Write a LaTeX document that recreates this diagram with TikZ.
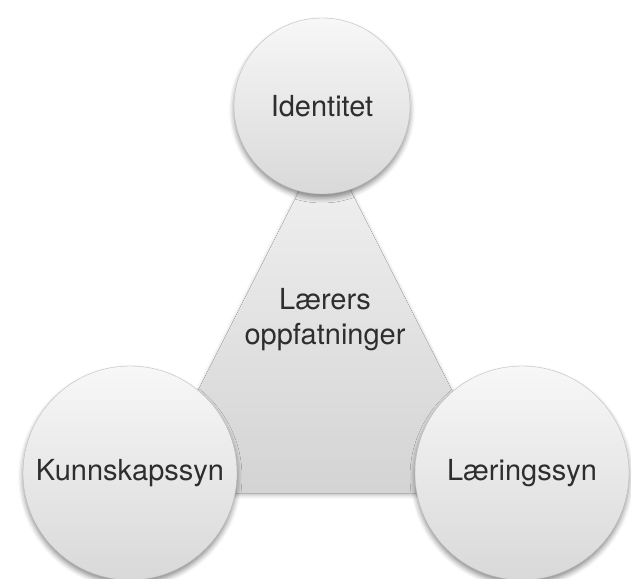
\documentclass[tikz,border=0pt]{standalone}
\usepackage{fontspec}
\setmainfont{TeX Gyre Heros}
\usetikzlibrary{shadows.blur}
\begin{document}
\begin{tikzpicture}[x=1pt,y=1pt, line join=round,
    label text/.style={text=black!82, font=\fontsize{29}{35}\selectfont},
    ball/.style={circle, minimum size=#1, inner sep=0pt, label text,
      top color=gray!6, bottom color=gray!30, draw=gray!50, line width=0.4pt,
      blur shadow={shadow xshift=0pt, shadow yshift=-4pt, shadow blur radius=5pt, shadow opacity=45}}]
    \def\rs{176} \def\rb{214}
    \useasboundingbox (0,0) rectangle (631,578);
    % triangle behind the three circles
    \coordinate (apex) at (325,438);
    \coordinate (left) at (146,85);
    \coordinate (right) at (504,85);
    \fill[top color=gray!10, bottom color=gray!34,
      blur shadow={shadow xshift=0pt, shadow yshift=-2pt, shadow blur radius=4pt, shadow opacity=30}]
      (apex) -- (right) -- (left) -- cycle;
    \node[label text, align=center] (core) at (325,258) {Lærers\\oppfatninger};
    % circles
    \node[ball=\rs] (ident) at (322,472) {Identitet};
    \node[ball=\rb] (kunn) at (130,105) {Kunnskapssyn};
    \node[ball=\rb] (laer) at (522,105) {Læringssyn};
\end{tikzpicture}
\end{document}
